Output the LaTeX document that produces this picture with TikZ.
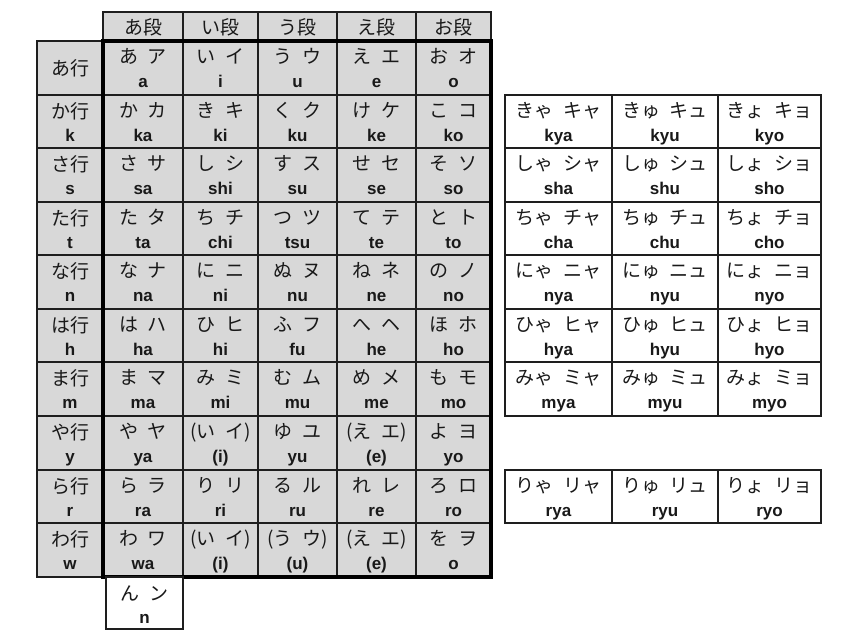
\documentclass[tikz,border=0pt]{standalone}
\usepackage{fontspec}
\setmainfont{Liberation Sans}
\newfontfamily\jpfont{Noto Sans CJK JP}
\definecolor{cellgray}{RGB}{216,216,216}
\definecolor{linecol}{RGB}{30,30,30}
\newcommand\kg{\hspace{0.5em}}
\newcommand\pk[2]{(#1\kg #2)}
\newcommand\pr[1]{(#1)}
\def\colx{{103,183,258,337,416,491}}
\def\rowy{{41,95,148,202,255,309,362,416,470,523,577}}
\def\rcolx{{505,612,718,821}}
\tikzset{
  kana/.style={font=\jpfont\fontsize{19}{22}\selectfont, inner sep=0pt, anchor=base, text=black!90},
  roma/.style={font=\fontsize{17}{20}\selectfont\bfseries, inner sep=0pt, anchor=base, text=black!90},
  gbox/.style={fill=cellgray, draw=linecol, line width=1.5pt},
  wbox/.style={fill=white, draw=linecol, line width=1.5pt},
  frame/.style={draw=black, line width=4pt},
}
% main table cell: col idx, row idx, kana, romaji
\newcommand\kanacell[4]{%
  \pgfmathsetmacro\cxa{\colx[#1]}\pgfmathsetmacro\cxb{\colx[#1+1]}%
  \pgfmathsetmacro\cya{\rowy[#2]}\pgfmathsetmacro\cyb{\rowy[#2+1]}%
  \pgfmathsetmacro\cxm{(\cxa+\cxb)/2}%
  \draw[gbox] (\cxa,\cya) rectangle (\cxb,\cyb);
  \node[kana] (k-#1-#2) at (\cxm,\cya+22) {#3};
  \node[roma] (r-#1-#2) at (\cxm,\cya+46) {#4};
}
% right tables cell
\newcommand\yoncell[4]{%
  \pgfmathsetmacro\cxa{\rcolx[#1]}\pgfmathsetmacro\cxb{\rcolx[#1+1]}%
  \pgfmathsetmacro\cya{\rowy[#2]}\pgfmathsetmacro\cyb{\rowy[#2+1]}%
  \pgfmathsetmacro\cxm{(\cxa+\cxb)/2}%
  \draw[wbox] (\cxa,\cya) rectangle (\cxb,\cyb);
  \node[kana] (yk-#1-#2) at (\cxm,\cya+22) {#3};
  \node[roma] (yr-#1-#2) at (\cxm,\cya+46) {#4};
}
% row label cell
\newcommand\labcell[3]{%
  \pgfmathsetmacro\cya{\rowy[#1]}\pgfmathsetmacro\cyb{\rowy[#1+1]}%
  \draw[gbox] (37,\cya) rectangle (103,\cyb);
  \node[kana] (lk-#1) at (70,\cya+23) {#2};
  \node[roma] (lr-#1) at (70,\cya+46) {#3};
}
\begin{document}
\begin{tikzpicture}[x=1pt,y=-1pt]
\useasboundingbox (0,0) rectangle (850,640);
\fill[white] (0,0) rectangle (850,640);

% header row
\foreach \h [count=\c from 0] in {あ段,い段,う段,え段,お段}{
  \pgfmathsetmacro\cxa{\colx[\c]}\pgfmathsetmacro\cxb{\colx[\c+1]}
  \pgfmathsetmacro\cxm{(\cxa+\cxb)/2}
  \draw[gbox] (\cxa,12) rectangle (\cxb,41);
  \node[kana] (h-\c) at (\cxm,34) {\h};
}

% row labels
\draw[gbox] (37,41) rectangle (103,95);
\node[kana] (lk-0) at (70,75) {あ行};
\foreach \l/\r [count=\i from 1] in {か行/k,さ行/s,た行/t,な行/n,は行/h,ま行/m,や行/y,ら行/r,わ行/w}{
  \labcell{\i}{\l}{\r}
}

% main cells
\foreach \k/\r [count=\c from 0] in {あ\kg ア/a,い\kg イ/i,う\kg ウ/u,え\kg エ/e,お\kg オ/o}{\kanacell{\c}{0}{\k}{\r}}
\foreach \k/\r [count=\c from 0] in {か\kg カ/ka,き\kg キ/ki,く\kg ク/ku,け\kg ケ/ke,こ\kg コ/ko}{\kanacell{\c}{1}{\k}{\r}}
\foreach \k/\r [count=\c from 0] in {さ\kg サ/sa,し\kg シ/shi,す\kg ス/su,せ\kg セ/se,そ\kg ソ/so}{\kanacell{\c}{2}{\k}{\r}}
\foreach \k/\r [count=\c from 0] in {た\kg タ/ta,ち\kg チ/chi,つ\kg ツ/tsu,て\kg テ/te,と\kg ト/to}{\kanacell{\c}{3}{\k}{\r}}
\foreach \k/\r [count=\c from 0] in {な\kg ナ/na,に\kg ニ/ni,ぬ\kg ヌ/nu,ね\kg ネ/ne,の\kg ノ/no}{\kanacell{\c}{4}{\k}{\r}}
\foreach \k/\r [count=\c from 0] in {は\kg ハ/ha,ひ\kg ヒ/hi,ふ\kg フ/fu,へ\kg ヘ/he,ほ\kg ホ/ho}{\kanacell{\c}{5}{\k}{\r}}
\foreach \k/\r [count=\c from 0] in {ま\kg マ/ma,み\kg ミ/mi,む\kg ム/mu,め\kg メ/me,も\kg モ/mo}{\kanacell{\c}{6}{\k}{\r}}
\foreach \k/\r [count=\c from 0] in {や\kg ヤ/ya,\pk{い}{イ}/\pr{i},ゆ\kg ユ/yu,\pk{え}{エ}/\pr{e},よ\kg ヨ/yo}{\kanacell{\c}{7}{\k}{\r}}
\foreach \k/\r [count=\c from 0] in {ら\kg ラ/ra,り\kg リ/ri,る\kg ル/ru,れ\kg レ/re,ろ\kg ロ/ro}{\kanacell{\c}{8}{\k}{\r}}
\foreach \k/\r [count=\c from 0] in {わ\kg ワ/wa,\pk{い}{イ}/\pr{i},\pk{う}{ウ}/\pr{u},\pk{え}{エ}/\pr{e},を\kg ヲ/o}{\kanacell{\c}{9}{\k}{\r}}

% thick frame round the kana cells
\draw[frame] (103,41) rectangle (491,577);

% n cell
\draw[wbox] (106,577) rectangle (183,629);
\node[kana] (k-n) at (144.5,600) {ん\kg ン};
\node[roma] (r-n) at (144.5,623) {n};

% yoon tables
\foreach \k/\r [count=\c from 0] in {きゃ\kg キャ/kya,きゅ\kg キュ/kyu,きょ\kg キョ/kyo}{\yoncell{\c}{1}{\k}{\r}}
\foreach \k/\r [count=\c from 0] in {しゃ\kg シャ/sha,しゅ\kg シュ/shu,しょ\kg ショ/sho}{\yoncell{\c}{2}{\k}{\r}}
\foreach \k/\r [count=\c from 0] in {ちゃ\kg チャ/cha,ちゅ\kg チュ/chu,ちょ\kg チョ/cho}{\yoncell{\c}{3}{\k}{\r}}
\foreach \k/\r [count=\c from 0] in {にゃ\kg ニャ/nya,にゅ\kg ニュ/nyu,にょ\kg ニョ/nyo}{\yoncell{\c}{4}{\k}{\r}}
\foreach \k/\r [count=\c from 0] in {ひゃ\kg ヒャ/hya,ひゅ\kg ヒュ/hyu,ひょ\kg ヒョ/hyo}{\yoncell{\c}{5}{\k}{\r}}
\foreach \k/\r [count=\c from 0] in {みゃ\kg ミャ/mya,みゅ\kg ミュ/myu,みょ\kg ミョ/myo}{\yoncell{\c}{6}{\k}{\r}}
\foreach \k/\r [count=\c from 0] in {りゃ\kg リャ/rya,りゅ\kg リュ/ryu,りょ\kg リョ/ryo}{\yoncell{\c}{8}{\k}{\r}}
\end{tikzpicture}
\end{document}
